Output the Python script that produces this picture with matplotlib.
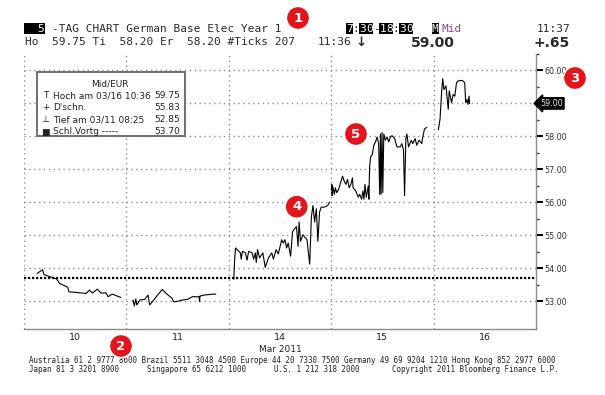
import matplotlib
matplotlib.use('Agg')
import matplotlib.pyplot as plt
from matplotlib.patches import Rectangle
import numpy as np

W, H = 605, 395

# ---------------- data ----------------
day_labels = ['10', '11', '14', '15', '16']
month_label = 'Mar 2011'
session_hours = 11.0          # 07:30 - 18:30

# hours after session open, mid price (EUR)
d10_h = [1.43, 2.00, 2.14, 2.78, 3.49, 3.84, 4.69, 4.83, 6.68, 7.03, 7.35, 7.88, 8.27, 8.80, 9.04, 9.47, 10.39]
d10_p = [53.84, 53.95, 53.80, 53.74, 53.67, 53.53, 53.42, 53.28, 53.23, 53.33, 53.24, 53.36, 53.24, 53.25, 53.13, 53.21, 53.11]

d11_h = [0.72, 0.85, 1.01, 1.12, 1.44, 1.97, 2.32, 2.50, 3.85, 4.27, 4.91, 5.05, 5.33, 6.03, 6.56, 7.09, 7.81, 7.86, 7.91, 8.34, 9.05, 9.58]
d11_p = [53.03, 52.85, 53.06, 52.88, 53.03, 53.05, 53.18, 52.88, 53.35, 53.23, 53.08, 52.98, 52.98, 53.03, 53.05, 53.13, 53.13, 52.98, 53.15, 53.18, 53.20, 53.21]

d14_h = [0.54, 0.62, 0.72, 0.90, 1.07, 1.25, 1.33, 1.47, 1.78, 1.96, 2.13, 2.50, 2.67, 2.85, 2.95, 3.09, 3.30, 3.66, 3.91, 4.26,
         4.62, 4.79, 5.08, 5.32, 5.68, 5.85, 6.03, 6.21, 6.38, 6.64, 6.85, 7.09, 7.27, 7.44, 7.55, 7.70, 7.97, 8.40, 8.69, 8.87,
         9.04, 9.22, 9.40, 9.57, 9.75, 9.93, 10.28, 10.63, 10.81]
d14_p = [53.67, 54.22, 54.61, 54.56, 54.51, 54.46, 54.27, 54.51, 54.46, 54.24, 54.51, 54.46, 54.27, 54.46, 54.17, 54.56, 54.31, 54.46, 54.02, 54.31,
         54.46, 54.27, 54.56, 54.43, 54.86, 54.76, 54.86, 54.61, 54.76, 54.36, 55.11, 55.20, 55.26, 54.66, 55.40, 54.81, 55.01, 54.86, 54.12, 55.55,
         55.90, 55.40, 55.80, 54.81, 55.70, 55.85, 55.85, 55.90, 56.00]

d15_h = [0.02, 0.06, 0.10, 0.16, 0.34, 0.45, 0.59, 0.80, 0.95, 1.22, 1.40, 1.58, 1.75, 1.93, 2.11, 2.28, 2.35, 2.64, 2.91, 3.06,
         3.27, 3.41, 3.52, 3.63, 3.77, 3.98, 4.05, 4.12, 4.23, 4.40, 4.58, 4.76, 4.93, 5.10, 5.21, 5.29, 5.36, 5.46, 5.54, 5.65,
         5.82, 6.00, 6.18, 6.36, 6.53, 6.82, 7.06, 7.42, 7.59, 7.77, 7.88, 8.02, 8.13, 8.31, 8.60, 8.77, 9.02, 9.19, 9.44, 9.73,
         9.80, 10.02, 10.26]
d15_p = [56.39, 56.54, 56.20, 56.49, 56.24, 56.44, 56.29, 56.39, 56.54, 56.79, 56.64, 56.54, 56.69, 56.44, 56.54, 56.74, 56.44, 56.34, 56.15, 56.24,
         56.09, 56.34, 56.09, 56.54, 56.15, 56.49, 56.09, 57.04, 57.38, 57.43, 57.73, 57.83, 57.98, 57.78, 56.24, 58.07, 56.24, 58.12, 56.29, 58.07,
         57.88, 57.98, 57.83, 57.98, 58.02, 57.93, 57.68, 57.68, 57.78, 57.58, 56.20, 57.93, 58.07, 57.68, 57.88, 57.78, 57.93, 57.73, 57.88, 57.78,
         57.93, 58.22, 58.27]

d16_h = [0.51, 0.69, 0.87, 0.98, 1.11, 1.33, 1.57, 1.68, 1.93, 2.10, 2.28, 2.46, 2.63, 2.99, 3.16, 3.34, 3.45, 3.59, 3.69, 3.80, 3.87]
d16_p = [58.20, 58.52, 59.38, 59.75, 59.42, 59.53, 58.82, 59.38, 59.02, 59.27, 59.22, 59.63, 59.68, 59.70, 59.68, 59.63, 59.02, 59.12, 58.97, 59.22, 59.00]

prev_close = 53.70
last_price = 59.00
y_ticks = [53, 54, 55, 56, 57, 58, 59, 60]

legend_title = 'Mid/EUR'
legend_syms = ['T', '+', '\u22a5', '\u25a0']
legend_labels = ['Hoch am 03/16 10:36', "D'schn.", 'Tief am 03/11 08:25', 'Schl.Vortg -----']
legend_values = ['59.75', '55.83', '52.85', '53.70']

footer1 = 'Australia 61 2 9777 8600 Brazil 5511 3048 4500 Europe 44 20 7330 7500 Germany 49 69 9204 1210 Hong Kong 852 2977 6000'
footer2 = ['Japan 81 3 3201 8900', 'Singapore 65 6212 1000', 'U.S. 1 212 318 2000', 'Copyright 2011 Bloomberg Finance L.P.']

# ---------------- figure ----------------
fig = plt.figure(figsize=(W / 100, H / 100), dpi=100)
fig.patch.set_facecolor('white')


def P(x, y):
    return (x / W, 1 - y / H)


ax = fig.add_axes([24 / W, 1 - 328.5 / H, 512 / W, 274.5 / H])
ax.set_xlim(0, 5)
ax.set_ylim(52.165, 60.41)
ax.set_facecolor('white')

grid_kw = dict(color='#8c8c8c', lw=1.0, ls=(0, (1, 2.5)), zorder=1)
for y in y_ticks:
    ax.axhline(y, **grid_kw)
for x in range(0, 5):
    ax.axvline(x, **grid_kw)
ax.axhline(prev_close, color='black', lw=1.6, ls=(0, (1, 0.8)), zorder=2)

days = [(d10_h, d10_p), (d11_h, d11_p), (d14_h, d14_p), (d15_h, d15_p), (d16_h, d16_p)]
for i, (hh, pp) in enumerate(days):
    ax.plot(i + np.array(hh) / session_hours, pp, color='black', lw=0.8, zorder=3)

for s in ['top', 'left']:
    ax.spines[s].set_visible(False)
for s in ['right', 'bottom']:
    ax.spines[s].set_color('#8c8c8c')
    ax.spines[s].set_linewidth(1.0)

ax.yaxis.tick_right()
ax.set_yticks(y_ticks)
# the last-price box replaces the plain label at that level
ax.set_yticklabels(['' if v == last_price else '%.2f' % v for v in y_ticks])
ax.set_yticks([v + 0.5 for v in y_ticks], minor=True)
ax.tick_params(axis='y', which='major', length=5, width=1.5, color='black',
               labelsize=5.8, labelcolor='#333333', pad=1)
ax.tick_params(axis='y', which='minor', length=2, width=1, color='#333333')
ax.set_xticks([i + 0.5 for i in range(5)])
ax.set_xticklabels(day_labels)
ax.tick_params(axis='x', length=0, labelsize=6.8, labelcolor='#222222', pad=3)

ax.text(1.008, last_price, '%.2f' % last_price, transform=ax.get_yaxis_transform(),
        ha='left', va='center', fontsize=5.8, color='#e8e8e8', zorder=10, clip_on=False,
        bbox=dict(boxstyle='larrow,pad=0.15', fc='black', ec='black'))

fig.text(*P(280, 349), month_label, ha='center', va='center', fontsize=6.5, color='#222222')

# ---------------- legend box ----------------
fig.add_artist(Rectangle(P(36.7, 136), 148.3 / W, 64.3 / H, transform=fig.transFigure,
                         fc='white', ec='#707070', lw=1.4, zorder=5))
fig.text(*P(110, 84.3), legend_title, ha='center', va='center', fontsize=6.5, color='#222222', zorder=6)
for k, yy in enumerate([96, 108, 120, 132]):
    fig.text(*P(45.5, yy), legend_syms[k], ha='center', va='center', fontsize=6.5, color='#222222', zorder=6)
    fig.text(*P(52.7, yy), legend_labels[k], ha='left', va='center', fontsize=6.5, color='#222222', zorder=6)
    fig.text(*P(180, yy), legend_values[k], ha='right', va='center', fontsize=6.5, color='#222222', zorder=6)

# ---------------- header ----------------
mono = 'DejaVu Sans Mono'
hc = '#2a2a2a'
cw = 6.69


def box(x0, x1, y0=23, y1=34):
    fig.add_artist(Rectangle(P(x0, y1), (x1 - x0) / W, (y1 - y0) / H, transform=fig.transFigure,
                             fc='black', ec='none', zorder=4))


box(24, 45)
fig.text(*P(44, 29), '5', ha='right', va='center', family=mono, fontsize=8, color='white', zorder=6)
fig.text(*P(52, 29), '-TAG CHART German Base Elec Year 1', ha='left', va='center', family=mono, fontsize=8, color=hc)

seg = '7:30-18:30'
x0 = 346
for j, ch in enumerate(seg):
    xx = x0 + j * cw
    white = ch.isdigit()
    if white:
        box(xx - 0.3, xx + cw + 0.3)
    fig.text(*P(xx, 29), ch, ha='left', va='center', family=mono, fontsize=8,
             color='white' if white else hc, zorder=6)
box(431.5, 438.5)
fig.text(*P(432, 29), 'M', ha='left', va='center', family=mono, fontsize=8, color='white', zorder=6)
fig.text(*P(442, 29), 'Mid', ha='left', va='center', family=mono, fontsize=8, color='#8a4b8a')
fig.text(*P(570, 29), '11:37', ha='right', va='center', family=mono, fontsize=8, color=hc)

fig.text(*P(25, 42), 'Ho  59.75 Ti  58.20 Er  58.20 #Ticks 207', ha='left', va='center',
         family=mono, fontsize=8, color=hc)
fig.text(*P(318, 42), '11:36', ha='left', va='center', family=mono, fontsize=8, color=hc)
fig.text(*P(361, 43), '\u2193', ha='center', va='center', fontsize=9.5, fontweight='bold', color=hc)
fig.text(*P(433, 43), '59.00', ha='center', va='center', fontsize=10, fontweight='bold', color=hc)
fig.text(*P(570, 43), '+.65', ha='right', va='center', fontsize=10, fontweight='bold', color=hc)

# ---------------- footer ----------------
fig.text(*P(29, 360.7), footer1, ha='left', va='center', family=mono, fontsize=5.45, color='#222222')
for xx, t in zip([29, 147, 274, 392], footer2):
    fig.text(*P(xx, 369.6), t, ha='left', va='center', family=mono, fontsize=5.45, color='#222222')

# ---------------- numbered markers ----------------
for num, (cx, cy) in zip(['1', '2', '3', '4', '5'],
                         [(298, 18), (121, 346), (575, 78), (296.7, 206.7), (356, 134)]):
    fig.text(*P(cx, cy), num, ha='center', va='center', fontsize=9.5, fontweight='bold', color='white', zorder=20,
             bbox=dict(boxstyle='circle,pad=0.38', fc='#e2141c', ec='white', lw=1.0))

fig.savefig('out.png', dpi=100, facecolor='white')
